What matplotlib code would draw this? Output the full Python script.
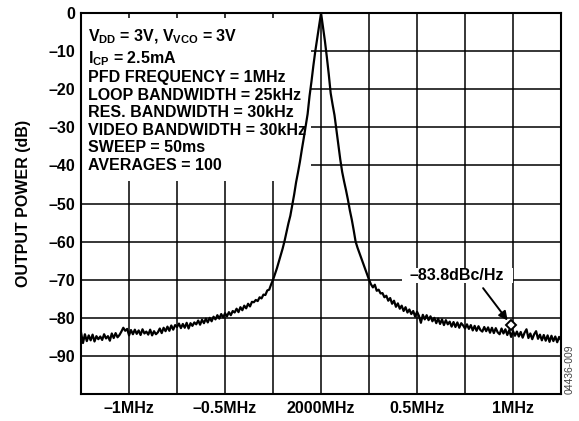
import numpy as np
import matplotlib
matplotlib.use("Agg")
import matplotlib.pyplot as plt
from matplotlib.patches import Rectangle

plt.rcParams["font.family"] = ["Liberation Sans", "DejaVu Sans"]
plt.rcParams["font.weight"] = "bold"
plt.rcParams["mathtext.fontset"] = "custom"
plt.rcParams["mathtext.rm"] = "Liberation Sans:bold"
plt.rcParams["mathtext.bf"] = "Liberation Sans:bold"
plt.rcParams["mathtext.it"] = "Liberation Sans:bold"

# sweep bins: offset from carrier, 10kHz steps from -1.25MHz to +1.25MHz
offset_mhz = np.round(np.arange(-125, 126) / 100.0, 2)

# noise floor left of the carrier (-1.25 .. -0.26 MHz)
left_floor_db = [
    -83.9, -86.6, -84.3, -86.1, -84.6, -85.9, -84.4, -86.2, -84.8, -85.6,
    -84.9, -85.8, -84.3, -85.4, -84.8, -86.0, -84.1, -85.3, -84.0, -85.1,
    -84.5, -83.6, -82.6, -83.4, -82.9, -84.6, -83.2, -84.3, -83.1, -84.2,
    -83.3, -84.5, -83.0, -84.1, -83.6, -84.4, -83.1, -84.6, -83.5, -84.3,
    -83.8, -82.8, -84.0, -82.6, -83.5, -82.3, -83.4, -82.0, -83.1, -81.9,
    -82.4, -81.5, -82.7, -81.6, -82.6, -81.3, -82.8, -81.4, -82.1, -81.2,
    -81.7, -80.7, -81.8, -80.5, -81.4, -80.2, -81.2, -80.0, -80.9, -79.7,
    -80.4, -79.3, -80.2, -79.0, -79.9, -78.8, -79.6, -78.5, -79.3, -78.2,
    -78.6, -77.6, -78.5, -77.2, -78.0, -76.8, -77.5, -76.3, -77.0, -75.8,
    -75.9, -75.3, -75.6, -74.6, -74.9, -73.9, -74.0, -72.8, -72.6, -71.2,
]

# carrier skirt (-0.25 .. +0.25 MHz)
carrier_db = [
    -70.0, -68.5, -67.0, -65.3, -63.6, -61.8, -59.8, -57.5, -55.2, -53.2,
    -50.4, -47.6, -44.4, -41.8, -39.0, -35.8, -32.8, -29.6, -26.5, -21.8,
    -18.0, -13.8, -10.0, -6.6, -3.3, 0.0,
    -3.6, -7.3, -11.5, -16.0, -21.0, -24.0, -26.8, -30.6, -34.5, -38.4,
    -41.7, -44.2, -46.5, -49.0, -51.8, -54.2, -57.0, -60.0, -61.6, -63.0,
    -64.4, -65.8, -67.2, -68.6, -70.0,
]

# noise floor right of the carrier (+0.26 .. +1.25 MHz)
right_floor_db = [
    -71.2, -72.0, -71.3, -72.9, -72.6, -73.6, -73.5, -74.6, -74.2, -75.5,
    -74.8, -76.3, -75.5, -77.1, -76.2, -77.6, -76.8, -78.2, -77.2, -78.6,
    -77.8, -79.0, -78.2, -79.7, -78.4, -79.5, -81.3, -79.2, -80.4, -79.3,
    -80.6, -79.6, -80.9, -80.0, -81.4, -80.2, -81.6, -80.4, -81.9, -80.6,
    -81.7, -81.0, -82.3, -81.1, -82.4, -81.2, -82.6, -81.4, -82.0, -82.8,
    -81.7, -82.9, -81.9, -83.3, -82.1, -83.4, -82.2, -83.2, -83.6, -82.4,
    -83.5, -82.5, -83.9, -82.6, -84.0, -82.7, -83.8, -84.3, -82.8, -84.1,
    -83.0, -84.5, -83.2, -85.0, -83.5, -84.7, -83.6, -84.9, -83.7, -85.2,
    -83.9, -83.0, -85.3, -84.1, -85.6, -84.3, -83.5, -85.5, -84.4, -85.9,
    -84.5, -86.0, -84.6, -86.3, -84.7, -86.1, -84.9, -86.4, -85.0, -85.9,
]

power_db = np.array(left_floor_db + carrier_db + right_floor_db)

x_ticks = [-1.0, -0.5, 0.0, 0.5, 1.0]
x_labels = ["\u20131MHz", "\u20130.5MHz", "2000MHz", "0.5MHz", "1MHz"]
y_ticks = list(range(-100, 1, 10))
y_labels = [""] + ["\u2013%d" % -v for v in y_ticks[1:-1]] + ["0"]

marker_x, marker_y = 0.988, -81.8
marker_label = "\u201383.8dBc/Hz"

info_lines = [
    r"V$_{\mathbf{DD}}$ = 3V, V$_{\mathbf{VCO}}$ = 3V",
    r"I$_{\mathbf{CP}}$ = 2.5mA",
    "PFD FREQUENCY = 1MHz",
    "LOOP BANDWIDTH = 25kHz",
    "RES. BANDWIDTH = 30kHz",
    "VIDEO BANDWIDTH = 30kHz",
    "SWEEP = 50ms",
    "AVERAGES = 100",
]

FS = 11.5

fig = plt.figure(figsize=(5.79, 4.21), dpi=100)
ax = fig.add_axes([0.140, 0.064, 0.829, 0.905])

ax.set_xlim(-1.25, 1.25)
ax.set_ylim(-100, 0)
ax.set_xticks(x_ticks)
ax.set_xticklabels(x_labels)
ax.set_xticks(np.arange(-1.25, 1.26, 0.25), minor=True)
ax.set_yticks(y_ticks)
ax.set_yticklabels(y_labels)
ax.tick_params(which="both", length=0, labelsize=FS)
ax.tick_params(axis="x", pad=5)
ax.tick_params(axis="y", pad=4)
for lab in ax.get_xticklabels() + ax.get_yticklabels():
    lab.set_fontweight("bold")

ax.grid(True, which="both", color="black", linewidth=1.1)
ax.set_axisbelow(True)
for s in ax.spines.values():
    s.set_linewidth(1.5)

# white areas behind the text hide the grid there
ax.add_patch(Rectangle((-1.25, -44.2), 1.25 - 0.052, 43.0, facecolor="white",
                       edgecolor="none", zorder=1))
ax.add_patch(Rectangle((0.422, -70.9), 0.58, 4.0, facecolor="white",
                       edgecolor="none", zorder=1))

ax.plot(offset_mhz, power_db, color="black", linewidth=1.6, zorder=3)

ax.text(0.015, 0.962, "\n".join(info_lines), transform=ax.transAxes,
        fontsize=FS, fontweight="bold", va="top", ha="left",
        linespacing=1.21, zorder=4)

ax.plot([marker_x], [marker_y], marker="D", markersize=5.5, markerfacecolor="white",
        markeredgecolor="black", markeredgewidth=1.4, zorder=5)
ax.annotate("", xy=(0.972, -80.7), xytext=(0.844, -72.2),
            arrowprops=dict(arrowstyle="-|>", color="black", lw=1.4,
                            mutation_scale=13, shrinkA=0, shrinkB=0), zorder=5)
ax.text(0.707, -68.8, marker_label, fontsize=FS, fontweight="bold",
        ha="center", va="center", zorder=4)

ax.set_ylabel("OUTPUT POWER (dB)", fontsize=FS, fontweight="bold", labelpad=13)

fig.text(0.983, 0.124, "04436-009", rotation=90, fontsize=7.5, color="#444444",
         fontweight="normal", ha="center", va="center")

fig.savefig("out.png", dpi=100)
